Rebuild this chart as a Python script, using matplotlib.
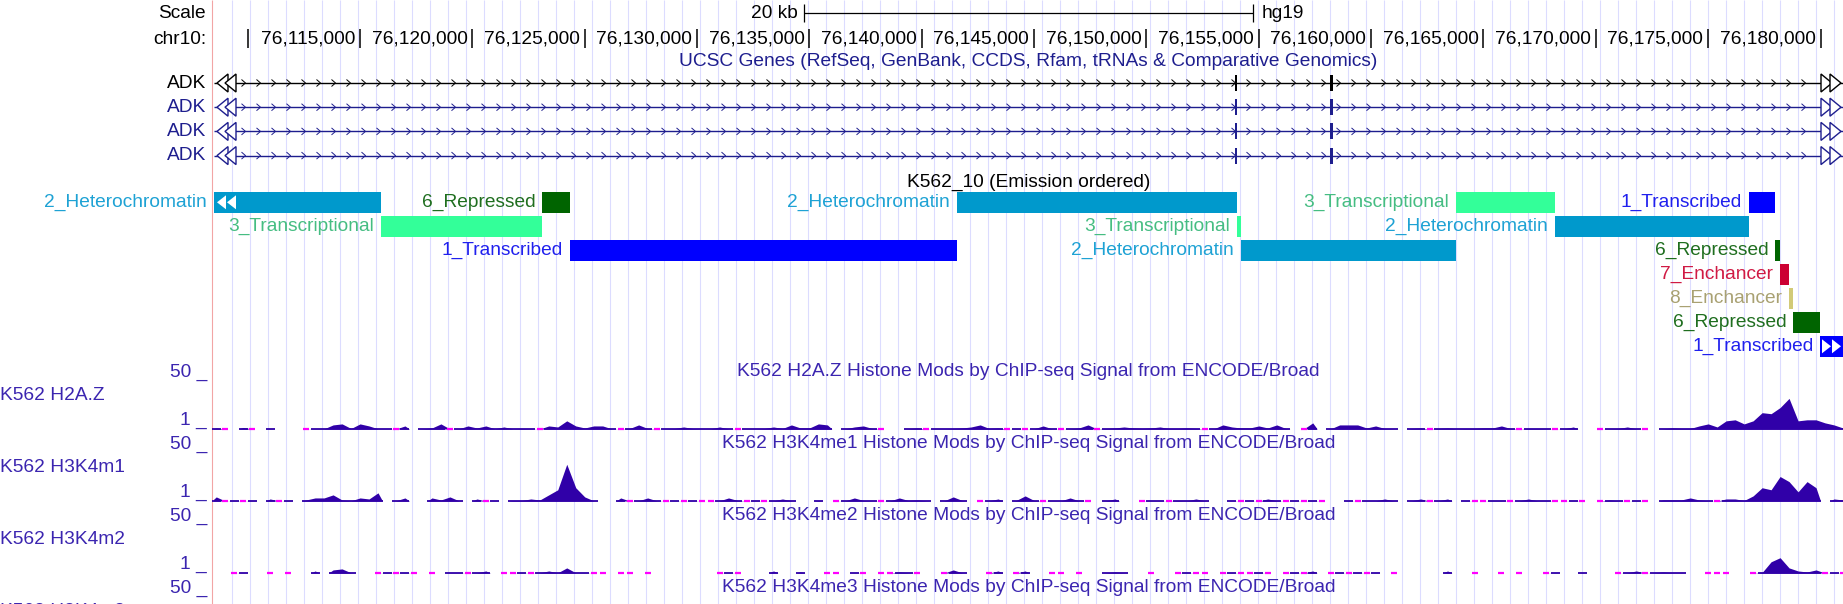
import numpy as np
import matplotlib
matplotlib.use("Agg")
import matplotlib.pyplot as plt
from matplotlib import transforms
from matplotlib.patches import Polygon
from matplotlib.collections import LineCollection

plt.rcParams['font.family'] = ['Liberation Sans', 'DejaVu Sans']

# ---------------------------------------------------------------- data
ASSEMBLY = "hg19"
CHROM = "chr10"
WIN_START = 76108500
WIN_END = 76181000
SCALE_BAR_BP = 20000
SCALE_BAR_LABEL = "20 kb"

RULER_TICKS = [76110000, 76115000, 76120000, 76125000, 76130000, 76135000, 76140000,
               76145000, 76150000, 76155000, 76160000, 76165000, 76170000, 76175000,
               76180000]
RULER_LABELS = ["", "76,115,000", "76,120,000", "76,125,000", "76,130,000", "76,135,000",
                "76,140,000", "76,145,000", "76,150,000", "76,155,000", "76,160,000",
                "76,165,000", "76,170,000", "76,175,000", "76,180,000"]

GENE_TRACK_TITLE = "UCSC Genes (RefSeq, GenBank, CCDS, Rfam, tRNAs & Comparative Genomics)"
GENE_NAMES = ["ADK", "ADK", "ADK", "ADK"]
GENE_TX_STARTS = [75910960, 75910960, 75910960, 75910960]
GENE_TX_ENDS = [76469061, 76469061, 76469061, 76469061]
EXON_STARTS = [76153930, 76158190]
EXON_ENDS = [76154030, 76158290]

STATE_TITLE = "K562_10 (Emission ordered)"
STATE_NAMES = ["2_Heterochromatin", "3_Transcriptional", "6_Repressed", "1_Transcribed",
               "2_Heterochromatin", "3_Transcriptional", "2_Heterochromatin",
               "3_Transcriptional", "2_Heterochromatin", "1_Transcribed", "6_Repressed",
               "7_Enchancer", "8_Enchancer", "6_Repressed", "1_Transcribed"]
STATE_STARTS = [76100000, 76115940, 76123120, 76124355, 76141555, 76154020, 76154200,
                76163780, 76168185, 76176805, 76177990, 76178195, 76178585, 76178795,
                76179995]
STATE_ENDS = [76115940, 76123120, 76124355, 76141555, 76154020, 76154200, 76163780,
              76168185, 76176805, 76177990, 76178195, 76178585, 76178795, 76179995,
              76185000]

SIGNAL_NAMES = ["K562 H2A.Z", "K562 H3K4m1", "K562 H3K4m2", "K562 H3K4m3"]
SIGNAL_TITLES = ["K562 H2A.Z Histone Mods by ChIP-seq Signal from ENCODE/Broad",
                 "K562 H3K4me1 Histone Mods by ChIP-seq Signal from ENCODE/Broad",
                 "K562 H3K4me2 Histone Mods by ChIP-seq Signal from ENCODE/Broad",
                 "K562 H3K4me3 Histone Mods by ChIP-seq Signal from ENCODE/Broad"]
SIGNAL_MIN = 1
SIGNAL_MAX = 50
BIN_START = 76108400
BIN_SIZE = 400
# 0 = no data, 0.5 = below view minimum (drawn magenta)
H2AZ = [2, 0.5, 0, 2.5, 0.5, 0, 1.2, 0, 0, 0,
        0.5, 1.2, 1.2, 5, 6, 1.5, 6, 4, 1.2, 1.2,
        0.5, 4, 0, 1.2, 2, 6, 0.5, 1.2, 4, 2,
        4, 1.2, 3, 1.2, 1.5, 1.2, 0.5, 4, 3, 9,
        4, 2, 4, 4, 1.2, 0.5, 1.5, 5, 1.5, 0.5,
        1.2, 1.5, 3, 1.5, 1.2, 1.2, 3, 1.2, 0.5, 1.2,
        1.2, 1.5, 3, 1.5, 5, 2, 2, 6, 5, 0,
        1.2, 3, 4, 1.5, 0.5, 0, 0, 1.2, 2, 0.5,
        1.2, 1.2, 1.5, 2, 3, 5, 1.5, 2, 0.5, 1.2,
        0.5, 1.2, 4, 1.2, 0.5, 1.2, 2, 5, 0.5, 1.5,
        2, 3, 2, 1.5, 2, 3, 1.5, 1.5, 2, 1.5,
        0.5, 1.2, 5, 3, 2, 2, 4, 2, 5, 1.5,
        0, 0.5, 7, 0, 1.2, 5, 5, 5, 2, 4,
        1.5, 1.2, 0, 1.5, 2, 0.5, 1.5, 2, 1.2, 1.5,
        1.5, 2, 2, 4, 1.5, 0.5, 1.5, 1.5, 1.2, 0.5,
        1.2, 3, 0, 0, 0.5, 1.2, 1.5, 3, 1.2, 0.5,
        0, 1.2, 2, 1.5, 1.5, 4, 6, 3, 9, 10,
        6, 9, 17, 16, 22, 31, 9, 10, 10, 7,
        5, 2]
H3K4ME1 = [5, 0.5, 1.2, 0.5, 1.2, 0, 3, 0.5, 1.2, 0,
           2, 4, 4, 7, 2, 1.2, 4, 3, 9, 0,
           1.2, 4, 0, 0, 4, 2, 5, 1.2, 0, 3,
           0.5, 1.2, 0, 1.5, 1.5, 3, 2, 7, 12, 37,
           14, 5, 1.2, 0, 0, 4, 0.5, 1.2, 4, 1.2,
           0.5, 1.2, 0.5, 1.2, 0.5, 0.5, 1.2, 4, 1.5, 0.5,
           1.2, 0.5, 1.2, 3, 1.2, 0, 0, 1.5, 0, 0.5,
           1.2, 4, 1.5, 1.2, 0.5, 1.2, 4, 1.5, 2, 1.2,
           0, 1.2, 5, 1.5, 0, 0.5, 1.2, 3, 0, 1.5,
           6, 1.5, 0.5, 1.2, 1.2, 4, 1.2, 0.5, 0, 1.2,
           3, 0, 0, 0.5, 1.2, 1.2, 0.5, 1.5, 1.2, 3,
           1.2, 0, 0, 1.2, 0.5, 1.2, 0.5, 3, 1.2, 0.5,
           1.2, 0.5, 1.2, 0.5, 0, 0, 1.2, 0.5, 1.2, 1.2,
           3, 1.2, 0, 1.2, 3, 0.5, 1.2, 3, 0, 1.2,
           0.5, 0.5, 1.2, 1.2, 0.5, 1.2, 3, 1.2, 1.2, 0.5,
           0.5, 1.2, 0.5, 0, 0.5, 2, 1.2, 0.5, 1.2, 0.5,
           0, 2, 2, 2, 4, 2, 1.2, 0.5, 3, 3,
           1.5, 6, 14, 12, 25, 20, 10, 20, 14, 0,
           3, 2]
H3K4ME2 = [0, 0, 0.5, 1.2, 0, 0, 0.5, 0, 0.5, 0,
           0, 3, 0, 4, 5, 1.2, 0, 0, 0.5, 1.2,
           0.5, 1.2, 0.5, 0, 0.5, 0, 1.2, 1.2, 0.5, 1.2,
           3, 0, 0.5, 0.5, 1.2, 0.5, 1.2, 3, 1.2, 6,
           1.2, 1.2, 0.5, 0.5, 0, 0.5, 0.5, 0, 0.5, 0,
           0, 0, 0, 0, 0, 0, 0.5, 1.2, 0.5, 0,
           0, 0, 3, 0, 0, 2, 0, 0, 0.5, 0.5,
           0, 1.2, 0.5, 0, 0.5, 0.5, 2, 1.2, 0.5, 0,
           0, 0.5, 4, 1.2, 0, 0, 0.5, 3, 0, 0.5,
           3, 0, 0, 0.5, 0.5, 0, 0.5, 0, 0, 1.2,
           2, 1.2, 0, 0, 0.5, 0, 0, 0.5, 1.2, 0.5,
           0.5, 0, 0.5, 1.2, 0.5, 0.5, 1.2, 0.5, 0, 0.5,
           1.2, 0.5, 3, 0, 0.5, 1.2, 0.5, 1.2, 0.5, 1.2,
           0, 0.5, 0, 0, 0, 0, 0, 3, 0, 0,
           0.5, 0, 0, 0.5, 0, 0.5, 0, 0, 0.5, 1.2,
           0, 0, 1.2, 0, 0, 0, 0.5, 1.2, 3, 0.5,
           1.2, 2, 1.2, 1.2, 0, 0, 0.5, 0.5, 0.5, 0,
           0, 0.5, 1.5, 12, 16, 6, 3, 2, 4, 0.5,
           1.2, 0.5]
SIGNALS = [H2AZ, H3K4ME1, H3K4ME2, None]

# ---------------------------------------------------------------- styles
W, H = 1843, 604
DPI = 100
FS = 13.8
DATA_LEFT = 214
GRID_COLOR = "#dcdcff"
RED_LINE = "#f2a5a5"
GENE_COLORS = ["#000000", "#1e1e8e", "#1e1e8e", "#1e1e8e"]
STATE_BAR = {"1_Transcribed": "#0000ff", "2_Heterochromatin": "#0099cc",
             "3_Transcriptional": "#33ff99", "6_Repressed": "#006400",
             "7_Enchancer": "#cc0033", "8_Enchancer": "#d2ca78"}
STATE_TXT = {"1_Transcribed": "#2020ee", "2_Heterochromatin": "#1ea2d4",
             "3_Transcriptional": "#45bd82", "6_Repressed": "#1f6e1f",
             "7_Enchancer": "#d01a44", "8_Enchancer": "#a9a172"}
SIG = "#3000a8"
SIG_TXT = "#3b25b0"
MAG = "#ff00ff"

fig = plt.figure(figsize=(W / DPI, H / DPI), dpi=DPI)
fig.patch.set_facecolor("white")

# background (guidelines)
bg = fig.add_axes([0, 0, 1, 1], zorder=0)
bg.set_xlim(0, W)
bg.set_ylim(H, 0)
bg.axis("off")
bg.patch.set_alpha(0)

# genomic axes
gax = fig.add_axes([DATA_LEFT / W, 0, (W - DATA_LEFT) / W, 1], zorder=1)
gax.set_xlim(WIN_START, WIN_END)
gax.set_ylim(H, 0)
gax.axis("off")
gax.patch.set_alpha(0)

# overlay (text, arrow glyphs)
pix = fig.add_axes([0, 0, 1, 1], zorder=5)
pix.set_xlim(0, W)
pix.set_ylim(H, 0)
pix.axis("off")
pix.patch.set_alpha(0)


def xpix(bp):
    return gax.transData.transform((bp, 0))[0]


center_px = (xpix(WIN_START) + xpix(WIN_END)) / 2
center_bp = (WIN_START + WIN_END) / 2

bg.vlines(np.arange(231.7, W, 18.0), 0, H, color=GRID_COLOR, lw=0.8)
bg.vlines(211.5, 0, H, color=RED_LINE, lw=0.8)

# ---------------------------------------------------------------- ruler
pix.text(206, 13, "Scale", ha="right", va="center", fontsize=FS)
pix.text(206, 39, CHROM + ":", ha="right", va="center", fontsize=FS)
b0, b1 = center_bp - SCALE_BAR_BP / 2, center_bp + SCALE_BAR_BP / 2
gax.hlines(13, b0, b1, color="k", lw=0.9)
gax.vlines([b0, b1], 4, 22, color="k", lw=0.9)
pix.text(xpix(b0) - 6, 13, SCALE_BAR_LABEL, ha="right", va="center", fontsize=FS)
pix.text(xpix(b1) + 8, 13, ASSEMBLY, ha="left", va="center", fontsize=FS)
gax.vlines(RULER_TICKS, 29, 48, color="k", lw=1.1)
for t, lab in zip(RULER_TICKS, RULER_LABELS):
    if lab:
        pix.text(xpix(t) - 5, 39, lab, ha="right", va="center", fontsize=FS)

# ---------------------------------------------------------------- genes
pix.text(center_px, 61, GENE_TRACK_TITLE, ha="center", va="center", fontsize=FS,
         color="#1e1e8e")
for i, (name, s, e) in enumerate(zip(GENE_NAMES, GENE_TX_STARTS, GENE_TX_ENDS)):
    y = 83 + 24.2 * i
    c = GENE_COLORS[i]
    pix.text(206, y, name, ha="right", va="center", fontsize=FS, color=c)
    gax.hlines(y, max(s, WIN_START), min(e, WIN_END), color=c, lw=1.0, zorder=3)
    gax.barh([y] * len(EXON_STARTS), np.subtract(EXON_ENDS, EXON_STARTS),
             left=EXON_STARTS, height=16, color=c, zorder=4)
    xl, xr = xpix(max(s, WIN_START)), xpix(min(e, WIN_END))
    segs = []
    for xc in np.arange(xl + 30, xr - 24, 15.0):
        segs.append([(xc - 2.5, y - 3.5), (xc + 1.5, y), (xc - 2.5, y + 3.5)])
    bg.add_collection(LineCollection(segs, colors=c, linewidths=0.7, zorder=3))
    if s < WIN_START:
        for k in range(2):
            tip = xl + 3 + 8 * k
            pix.add_patch(Polygon([(tip, y), (tip + 11, y - 9), (tip + 11, y + 9)],
                                  closed=True, fc="white", ec=c, lw=1.0, zorder=5))
    if e > WIN_END:
        for k in range(2):
            base = xr - 22 + 9 * k
            pix.add_patch(Polygon([(base, y - 9), (base + 11, y), (base, y + 9)],
                                  closed=True, fc="white", ec=c, lw=1.0, zorder=5))

# ---------------------------------------------------------------- chromatin states
pix.text(center_px, 182, STATE_TITLE, ha="center", va="center", fontsize=FS)
renderer = fig.canvas.get_renderer()


def text_width(s):
    t = pix.text(0, 0, s, fontsize=FS)
    w = t.get_window_extent(renderer).width
    t.remove()
    return w


label_tr = transforms.offset_copy(gax.transData, fig=fig, x=-7, y=0, units="dots")
row_end = []
order = np.argsort(STATE_STARTS)
for idx in order:
    name, s, e = STATE_NAMES[idx], STATE_STARTS[idx], STATE_ENDS[idx]
    s_c, e_c = max(s, WIN_START), min(e, WIN_END)
    left = xpix(s_c) - 7 - text_width(name)
    r = 0
    while r < len(row_end) and row_end[r] > left - 2:
        r += 1
    if r == len(row_end):
        row_end.append(0)
    row_end[r] = xpix(e_c)
    y = 202.3 + 24 * r
    gax.barh(y, e - s, left=s, height=21.5, color=STATE_BAR[name], zorder=3)
    gax.text(s_c, y, name, transform=label_tr, ha="right", va="center", fontsize=FS,
             color=STATE_TXT[name])
    if s < WIN_START:
        x0 = xpix(WIN_START)
        for k in range(2):
            tip = x0 + 3 + 10 * k
            pix.add_patch(Polygon([(tip, y), (tip + 9, y - 7), (tip + 9, y + 7)],
                                  closed=True, fc="white", ec="none", zorder=5))
    if e > WIN_END:
        x1 = xpix(WIN_END)
        for k in range(2):
            base = x1 - 21 + 10 * k
            pix.add_patch(Polygon([(base, y - 7), (base + 9, y), (base, y + 7)],
                                  closed=True, fc="white", ec="none", zorder=5))

# ---------------------------------------------------------------- signal tracks
for i, (name, title, vals) in enumerate(zip(SIGNAL_NAMES, SIGNAL_TITLES, SIGNALS)):
    top = 379 + 72 * i
    bottom = top + 50
    pix.text(0, 395 + 72 * i, name, ha="left", va="center", fontsize=FS, color=SIG_TXT)
    pix.text(207, 372 + 72 * i, "%d _" % SIGNAL_MAX, ha="right", va="center",
             fontsize=FS, color=SIG_TXT)
    pix.text(center_px, 372 + 72 * i, title, ha="center", va="center", fontsize=FS,
             color=SIG_TXT)
    if vals is None:
        continue
    pix.text(207, 420 + 72 * i, "%d _" % SIGNAL_MIN, ha="right", va="center",
             fontsize=FS, color=SIG_TXT)
    ax = fig.add_axes([DATA_LEFT / W, (H - bottom) / H, (W - DATA_LEFT) / W, 50 / H],
                      zorder=2)
    ax.set_xlim(WIN_START, WIN_END)
    ax.set_ylim(SIGNAL_MIN, SIGNAL_MAX)
    ax.axis("off")
    ax.patch.set_alpha(0)
    v = np.asarray(vals, float)
    n = len(v)
    edges = BIN_START + BIN_SIZE * np.arange(n + 1)
    centers = edges[:-1] + BIN_SIZE / 2
    present = v > 0
    j0 = 0
    while j0 < n:
        if not present[j0]:
            j0 += 1
            continue
        j1 = j0
        while j1 < n and present[j1]:
            j1 += 1
        xs = np.concatenate([[edges[j0]], centers[j0:j1], [edges[j1]]])
        ys = np.concatenate([[SIGNAL_MIN], np.maximum(v[j0:j1], SIGNAL_MIN), [SIGNAL_MIN]])
        ax.fill_between(xs, SIGNAL_MIN, ys, color=SIG, lw=0)
        j0 = j1
    blue = v >= SIGNAL_MIN
    ax.hlines(np.full(blue.sum(), SIGNAL_MIN), edges[:-1][blue], edges[1:][blue],
              color=SIG, lw=1.3, clip_on=False)
    low = present & (v < SIGNAL_MIN)
    ax.plot(centers[low], np.full(low.sum(), SIGNAL_MIN), ls="none", marker="_", ms=4.5,
            mew=1.6, color=MAG, clip_on=False)

fig.savefig("out.png", dpi=DPI)
